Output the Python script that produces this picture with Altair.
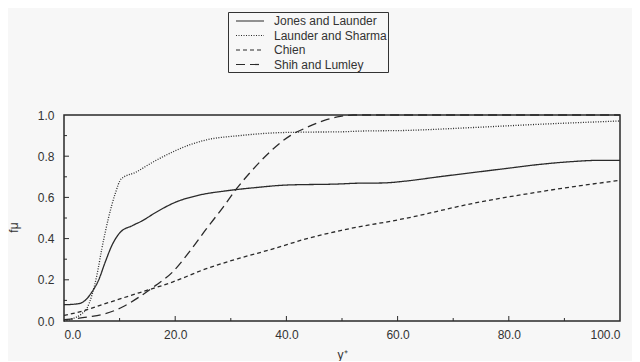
import altair as alt
import pandas as pd

series = ["Jones and Launder", "Launder and Sharma", "Chien", "Shih and Lumley"]

jl_x = [0, 2.6, 3.8, 5, 6.2, 7.4, 8.6, 10.1, 12.3, 14.1, 16.5, 20, 24.3, 29.2, 34.6, 40,
        49.3, 53, 57.2, 61.4, 67.4, 73.4, 79.4, 85.5, 91.5, 96.3, 100]
jl_y = [0.079, 0.084, 0.10, 0.14, 0.197, 0.285, 0.366, 0.43, 0.463, 0.487, 0.527, 0.576,
        0.611, 0.632, 0.648, 0.66, 0.665, 0.669, 0.67, 0.679, 0.70, 0.72, 0.74, 0.76,
        0.774, 0.78, 0.78]

ls_x = [0, 1.4, 3.2, 4.1, 5, 5.9, 6.8, 8, 9.2, 10.3, 12.9, 15.9, 19.5, 23.1, 25.6, 31.6,
        37.6, 43.7, 49.3, 53.4, 61.4, 73.4, 85.5, 100]
ls_y = [0.0, 0.01, 0.035, 0.06, 0.124, 0.22, 0.35, 0.50, 0.617, 0.69, 0.722, 0.77, 0.82,
        0.86, 0.879, 0.90, 0.913, 0.917, 0.918, 0.922, 0.925, 0.939, 0.955, 0.971]

ch_x = [0, 3.2, 7.4, 13.5, 19.5, 25.6, 31.6, 37.6, 43.7, 49.9, 61.4, 73.4, 85.5, 100]
ch_y = [0.027, 0.047, 0.084, 0.137, 0.189, 0.254, 0.305, 0.35, 0.40, 0.44, 0.498, 0.57,
        0.627, 0.683]

sl_x = [0, 4.4, 7.4, 10.5, 13.5, 16.5, 19.5, 22.5, 25.6, 28.6, 31, 34.6, 37.6, 40.7, 43.7,
        46.7, 49.7, 52, 100]
sl_y = [0.006, 0.02, 0.035, 0.068, 0.116, 0.173, 0.237, 0.334, 0.447, 0.552, 0.641, 0.754,
        0.835, 0.90, 0.94, 0.973, 0.993, 1.0, 1.0]

x_major = [20, 40, 60, 80]
x_minor = [10, 30, 50, 70, 90]
y_major = [0.2, 0.4, 0.6, 0.8]
y_minor = [0.1, 0.3, 0.5, 0.7, 0.9]
x_labels = [0, 20, 40, 60, 80, 100]
y_labels = [0.0, 0.2, 0.4, 0.6, 0.8, 1.0]

rows = []
for name, xs, ys in zip(series, [jl_x, ls_x, ch_x, sl_x], [jl_y, ls_y, ch_y, sl_y]):
    for i, (a, b) in enumerate(zip(xs, ys)):
        rows.append({"series": name, "x": a, "y": b, "order": i})
df = pd.DataFrame(rows)

W, H = 556, 206
FONT = "Liberation Sans"
INK = "#2a2a2a"

xscale = alt.Scale(domain=[0, 100], nice=False, zero=False)
yscale = alt.Scale(domain=[0, 1], nice=False)

lines = alt.Chart(df).mark_line(color=INK, strokeWidth=1.3, interpolate="monotone").encode(
    x=alt.X("x:Q", scale=xscale,
            axis=alt.Axis(values=x_labels, format=".1f", title="y⁺", ticks=False, domain=False,
                          grid=False, labelPadding=8, labelFontSize=12, labelColor="#333",
                          labelFont=FONT, titleFont=FONT, titleFontSize=12,
                          titleFontWeight="normal", titleColor="#333", titleY=33,
                          titleBaseline="middle")),
    y=alt.Y("y:Q", scale=yscale,
            axis=alt.Axis(values=y_labels, format=".1f", title="fμ", ticks=False, domain=False,
                          grid=False, labelPadding=10, labelFontSize=12, labelColor="#333",
                          labelFont=FONT, titleFont=FONT, titleFontSize=12,
                          titleFontWeight="normal", titleColor="#333", titleX=-51,
                          titleY=112, titleAngle=270, titleBaseline="middle")),
    strokeDash=alt.StrokeDash(
        "series:N",
        scale=alt.Scale(domain=series, range=[[1, 0], [1, 1.5], [4, 3], [9, 5]]),
        legend=alt.Legend(title=None, orient="none", legendX=164, legendY=-103,
                          strokeColor="#333", padding=1, symbolOffset=13,
                          symbolType="M-2,0H2", symbolSize=196, symbolStrokeWidth=1.2,
                          symbolStrokeColor=INK, symbolFillColor="transparent",
                          labelFont=FONT, labelFontSize=12,
                          labelColor="#333", labelOffset=16, rowPadding=0.5,
                          labelLimit=200),
    ),
    order="order:Q",
)

def tick_layer(vals, field, length):
    d = pd.DataFrame({"v": vals})
    base = alt.Chart(d).mark_rule(color=INK, strokeWidth=1)
    if field == "x":
        return base.encode(x=alt.X("v:Q", scale=xscale), y=alt.value(H), y2=alt.value(H - length))
    return base.encode(y=alt.Y("v:Q", scale=yscale), x=alt.value(0), x2=alt.value(length))

chart = alt.layer(
    lines,
    tick_layer(x_major, "x", 5),
    tick_layer(x_minor, "x", 3),
    tick_layer(y_major, "y", 5),
    tick_layer(y_minor, "y", 3),
).properties(
    width=W, height=H,
    autosize=alt.AutoSizeParams(type="none"),
    padding={"left": 56, "top": 107, "right": 12, "bottom": 40},
    background="#f7f7f7",
).configure_view(stroke=INK, strokeWidth=1.5)

chart.save("out.html", embed_options={"renderer": "svg", "actions": False})
